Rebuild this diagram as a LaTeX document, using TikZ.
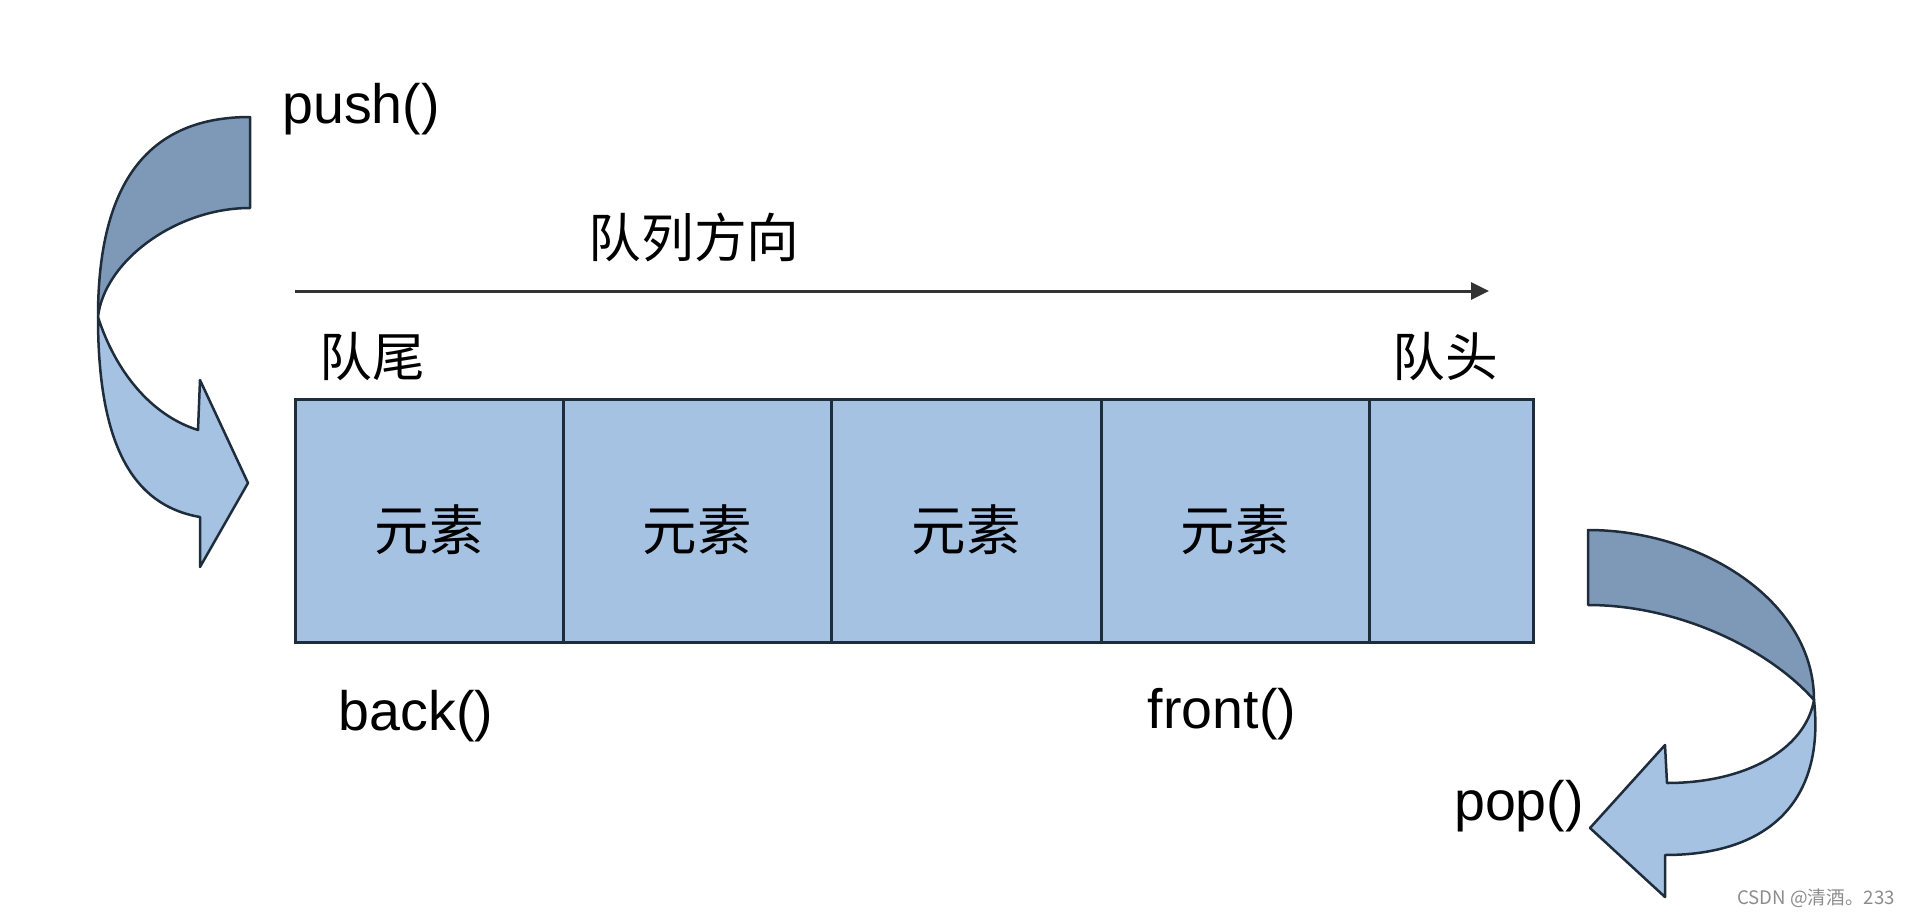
\documentclass[tikz,border=0pt]{standalone}
\usepackage{fontspec}
\setmainfont{Liberation Sans}
\newfontfamily\cjk{Noto Sans CJK SC}
\usetikzlibrary{arrows.meta, positioning}
\definecolor{cellblue}{RGB}{166,194,226}
\definecolor{bendblue}{RGB}{126,152,184}
\definecolor{edgenavy}{RGB}{30,44,60}

\begin{document}
\begin{tikzpicture}[
    x=0.1mm, y=-0.1mm,
    cell/.style={draw=edgenavy, fill=cellblue, line width=0.3mm, outer sep=0pt, inner sep=0pt,
                 minimum height=24.3mm, text height=6mm, text depth=0mm,
                 font=\cjk\fontsize{15.5}{18}\selectfont},
    lbl/.style={font=\fontsize{15.8}{18}\selectfont, inner sep=0pt, anchor=base},
    zh/.style={font=\cjk\fontsize{15}{18}\selectfont, inner sep=0pt},
    bend dark/.style={draw=edgenavy, fill=bendblue, line width=0.25mm, line join=round},
    bend light/.style={draw=edgenavy, fill=cellblue, line width=0.25mm, line join=round}
]
   \useasboundingbox (0,0) rectangle (1906,917);

   % Queue cells
   \node[cell, minimum width=26.8mm, anchor=north west] (c1) at (295,399) {元素};
   \node[cell, minimum width=26.8mm, right=0pt of c1] (c2) {元素};
   \node[cell, minimum width=27.0mm, right=0pt of c2] (c3) {元素};
   \node[cell, minimum width=26.8mm, right=0pt of c3] (c4) {元素};
   \node[cell, minimum width=16.4mm, right=0pt of c4] (c5) {};

   % Labels
   \node[zh] (dir) at (694,237) {队列方向};
   \node[zh] (tail) at (372,357) {队尾};
   \node[zh] (head) at (1445,357) {队头};
   \node[lbl] (push) at (361,123) {push()};
   \node[lbl] (back) at (416,730) {back()};
   \node[lbl] (front) at (1222,728) {front()};
   \node[lbl] (pop) at (1519,820) {pop()};

   % Direction arrow
   \coordinate (dirS) at (295,291);
   \coordinate (dirE) at (1489,291);
   \draw[-{Triangle[length=1.8mm,width=1.7mm]}, line width=0.3mm, draw=black!80] (dirS) -- (dirE);

   % push() bent arrow
   \draw[bend dark] (250,117) .. controls (150,117) and (98,180) .. (98,317)
      .. controls (104,262) and (175,208) .. (250,208) -- cycle;
   \draw[bend light] (98,317) .. controls (115,370) and (150,415) .. (198,430)
      -- (200,380) -- (248,483) -- (200,567) -- (200,517)
      .. controls (130,505) and (98,440) .. (98,317) -- cycle;

   % pop() bent arrow
   \draw[bend dark] (1588,530) .. controls (1700,530) and (1814,600) .. (1814,700)
      .. controls (1770,650) and (1680,605) .. (1588,605) -- cycle;
   \draw[bend light] (1814,700) .. controls (1805,750) and (1745,783) .. (1667,783)
      -- (1665,745) -- (1590,828) -- (1665,897) -- (1665,855)
      .. controls (1770,855) and (1825,800) .. (1814,700) -- cycle;

   % watermark
   \node[font=\cjk\fontsize{5.3}{7}\selectfont, text=black!45, inner sep=0pt] (mark) at (1816,898) {CSDN @清酒。233};
\end{tikzpicture}
\end{document}
